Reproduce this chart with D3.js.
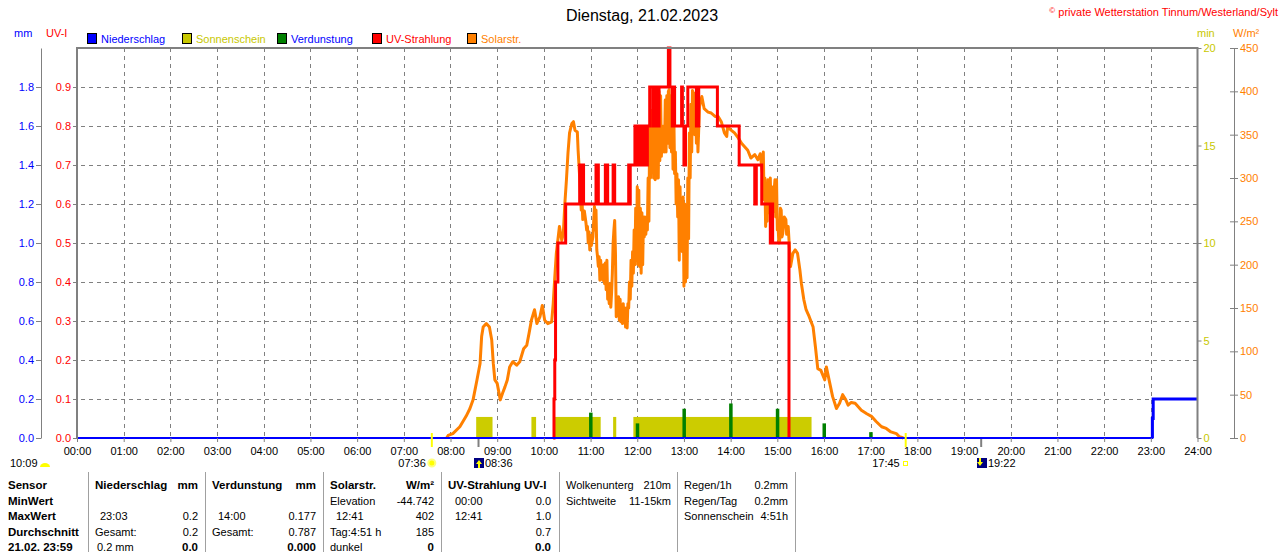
<!DOCTYPE html>
<html>
<head>
<meta charset="utf-8">
<script src="https://cdn.jsdelivr.net/npm/d3@7"></script>
<style>
  body { margin: 0; background: #fff; }
  svg { display: block; font-family: "Liberation Sans", Arial, sans-serif; }
  .axis text { font-size: 11px; }
  .tbl { font-size: 11px; fill: #000; }
  .tbl.b { font-weight: bold; font-size: 11.5px; }
</style>
</head>
<body>
<svg id="chart" width="1280" height="552"></svg>
<script>
// ---- data ----
const hourTicks = d3.range(0, 25)
const hourLabels = hourTicks.map(h => String(h).padStart(2, "0") + ":00")

const mmTicks = [0, 0.2, 0.4, 0.6, 0.8, 1.0, 1.2, 1.4, 1.6, 1.8]
const uvTicks = [0, 0.1, 0.2, 0.3, 0.4, 0.5, 0.6, 0.7, 0.8, 0.9]
const minTicks = [0, 5, 10, 15, 20]
const wTicks = [0, 50, 100, 150, 200, 250, 300, 350, 400, 450]

// Solarstrahlung W/m²
const solarTimes = ["07:55","07:57","08:03","08:12","08:20","08:25","08:29","08:34","08:38","08:40","08:42","08:46","08:50","08:53","08:55","08:57",
  "09:00","09:04","09:07","09:10","09:13","09:16","09:20","09:25","09:29","09:34","09:38","09:41","09:44","09:48","09:51","09:55","09:58",
  "10:01","10:05","10:10","10:12","10:14","10:16","10:20","10:23","10:25","10:27","10:29","10:31","10:33","10:36","10:38","10:40","10:43","10:44","10:46","10:47","10:48","10:49","10:50","10:52","10:54","10:55","10:56","10:57","10:58","10:59",
  "11:00","11:01","11:03","11:04","11:05","11:06","11:07","11:08","11:09","11:10","11:11","11:12","11:13","11:14","11:16","11:17","11:18","11:19","11:20","11:21","11:22","11:23","11:24","11:25","11:26","11:27","11:28","11:29",
  "11:30","11:31","11:32","11:33","11:34","11:35","11:36","11:37","11:38","11:39","11:40","11:41","11:42","11:43","11:44","11:45","11:46","11:47","11:48","11:49",
  "11:50","11:51","11:52","11:53","11:54","11:55","11:56","11:57","11:58","11:59",
  "12:00","12:01","12:02","12:03","12:04","12:05","12:06","12:07","12:08","12:09","12:10","12:11","12:12","12:13","12:14","12:15","12:16","12:17","12:18","12:19",
  "12:20","12:21","12:22","12:23","12:24","12:25","12:26","12:27","12:28","12:29","12:30","12:31","12:32","12:33","12:34","12:35","12:36","12:37","12:38","12:39",
  "12:40","12:41","12:42","12:43","12:44","12:45","12:46","12:47","12:48","12:49","12:50","12:51","12:52","12:53","12:54","12:55","12:56","12:57","12:58","12:59",
  "13:00","13:01","13:02","13:03","13:04","13:05","13:06","13:07","13:08","13:09","13:10","13:11","13:12","13:13","13:14","13:15","13:16","13:17","13:18",
  "13:20","13:23","13:26","13:31","13:35","13:40","13:44","13:48","13:52","13:55","13:56",
  "14:01","14:05","14:10","14:14","14:18","14:22","14:26","14:31","14:35","14:38","14:41","14:42","14:43","14:44","14:45","14:46","14:47","14:48","14:49","14:50",
  "14:51","14:52","14:53","14:54","14:55","14:57","14:58","14:59","15:00","15:01","15:02","15:03","15:04","15:05","15:06","15:07","15:09","15:11","15:12","15:14",
  "15:17","15:20","15:23","15:26","15:29","15:31","15:34","15:37","15:41","15:46","15:49","15:52","15:56",
  "16:01","16:03","16:07","16:11","16:16","16:20","16:24","16:28","16:31","16:35","16:40","16:44","16:48","16:55",
  "17:01","17:07","17:14","17:20","17:26","17:33","17:37","17:42"]
const solarValues = [0,3,5,13,25,34,44,67,86,117,128,132,128,113,86,67,
  63,44,52,59,67,82,88,84,88,103,107,121,136,148,132,140,153,
  136,132,134,155,185,213,244,228,236,271,298,329,352,363,365,355,353,332,301,282,263,275,252,262,249,240,244,225,238,217,
  234,222,232,250,267,240,263,217,209,198,209,182,205,186,182,200,178,202,171,205,160,167,155,178,151,167,190,225,
  240,251,213,140,159,150,163,136,160,134,150,132,155,135,150,128,150,127,155,150,
  180,160,205,175,215,190,240,200,265,205,
  290,200,286,198,265,190,260,200,255,232,255,235,252,240,300,250,360,300,378,320,
  378,300,360,298,385,300,390,300,400,320,395,325,350,330,360,330,390,330,395,340,
  400,402,335,395,330,380,310,375,305,330,270,305,255,298,205,290,230,260,215,278,
  175,270,180,240,185,300,230,352,300,385,330,401,360,398,350,394,340,385,330,
  382,394,380,376,375,371,371,365,352,348,359,
  355,352,346,340,336,332,323,327,321,328,305,330,275,300,244,290,250,298,260,267,
  300,255,290,260,275,298,255,298,240,244,225,228,265,263,232,236,255,252,235,244,
  198,213,217,213,194,178,160,148,140,128,105,80,78,
  67,82,65,48,34,40,50,44,38,41,40,36,32,28,
  25,19,13,11,7,5,1.5,0]

// UV-Strahlung UV-I (Stufen)
const uvTimes = ["10:12","10:13","10:14","10:15","10:18","10:28","10:46","10:47","10:49","10:51","11:07","11:10","11:19","11:22","11:29","11:31","11:49","11:50","11:51",
  "11:57","11:59","12:01","12:03","12:04","12:06","12:07","12:09","12:10","12:12","12:13","12:16","12:20","12:22","12:24","12:25","12:27","12:28",
  "12:40","12:42","12:45","12:47","12:48","12:57","12:58","13:00","13:02","13:05","13:16","13:19","13:43",
  "14:11","14:31","14:33","14:40","14:51","14:52","14:54","15:15"]
const uvValues = [0,0.1,0.2,0.4,0.5,0.6,0.7,0.6,0.7,0.6,0.7,0.6,0.7,0.6,0.7,0.6,0.7,0.6,0.7,
  0.8,0.7,0.8,0.7,0.8,0.7,0.8,0.7,0.8,0.7,0.8,0.9,0.8,0.9,0.8,0.9,0.8,0.9,
  1.0,0.9,0.8,0.9,0.8,0.9,0.8,0.7,0.8,0.9,0.8,0.9,0.8,
  0.7,0.6,0.7,0.6,0.5,0.6,0.5,0]

// Niederschlag mm
const rainTimes = ["00:00","23:02","23:03","24:00"]
const rainValues = [0, 0.1, 0.2, 0.2]

// Sonnenschein (min)
const sunStart = ["08:33","09:44","10:12","11:29","11:55"]
const sunEnd = ["08:54","09:50","11:13","11:33","15:44"]
const sunValue = 1.08

// Verdunstung mm
const evapTimes = ["11:00","12:00","13:00","14:00","15:00","16:00","17:00"]
const evapValues = [0.13, 0.075, 0.15, 0.177, 0.15, 0.075, 0.03]

// Sonne / Mond
const sunRise = "07:36", sunSet = "17:45", moonRise = "08:36", moonSet = "19:22", dayInfo = "10:09"

// ---- layout ----
const plotLeft = 77, plotRight = 1197.5, plotTop = 48, plotBottom = 438
const font = "'Liberation Sans', Arial, sans-serif"
const cBlue = "#0000ff", cYellow = "#c8c800", cGreen = "#008000", cRed = "#ff0000", cOrange = "#ff8000", cGray = "#808080"

const toMin = s => { const [h, m] = s.split(":").map(Number); return h * 60 + m }

const svg = d3.select("#chart")

const x = d3.scaleLinear().domain([0, 1440]).range([plotLeft, plotRight])
const yMM = d3.scaleLinear().domain([0, 2]).range([plotBottom, plotTop])
const yUV = d3.scaleLinear().domain([0, 1]).range([plotBottom, plotTop])
const yMin = d3.scaleLinear().domain([0, 20]).range([plotBottom, plotTop])
const yW = d3.scaleLinear().domain([0, 450]).range([plotBottom, plotTop])

// header
svg.append("text").attr("x", 642).attr("y", 21).attr("text-anchor", "middle")
    .attr("font-size", 16).text("Dienstag, 21.02.2023")
svg.append("text").attr("x", 1278).attr("y", 16).attr("text-anchor", "end")
    .attr("font-size", 11).attr("fill", cRed)
    .html('<tspan font-size="8" dy="-3">©</tspan><tspan dy="3"> private Wetterstation Tinnum/Westerland/Sylt</tspan>')

svg.append("text").attr("x", 14).attr("y", 37).attr("font-size", 11).attr("fill", cBlue).text("mm")
svg.append("text").attr("x", 46).attr("y", 37).attr("font-size", 11).attr("fill", cRed).text("UV-I")
svg.append("text").attr("x", 1197).attr("y", 37).attr("font-size", 11).attr("fill", cYellow).text("min")
svg.append("text").attr("x", 1233).attr("y", 37).attr("font-size", 11).attr("fill", cOrange).text("W/m²")

//legend
const legendNames = ["Niederschlag", "Sonnenschein", "Verdunstung", "UV-Strahlung", "Solarstr."]
const legendColours = [cBlue, cYellow, cGreen, cRed, cOrange]
const legendText = [cBlue, cYellow, cBlue, cRed, cOrange]
const legend = svg.append("g").selectAll("g")
    .data(legendNames).enter().append("g")
    .attr("transform", (d, i) => `translate(${87 + i * 95}, 33)`)
legend.append("rect").attr("x", 0.5).attr("y", 0.5).attr("width", 9).attr("height", 10)
    .attr("fill", (d, i) => legendColours[i]).attr("stroke", "#000")
legend.append("text").attr("x", 14).attr("y", 9.5).attr("font-size", 11)
    .attr("fill", (d, i) => legendText[i]).text(d => d)

// grid
const grid = svg.append("g").attr("stroke", cGray).attr("stroke-dasharray", "4,4").attr("stroke-width", 1)
grid.selectAll("line.h").data(uvTicks.slice(1)).enter().append("line")
    .attr("x1", plotLeft - 4).attr("x2", plotRight).attr("y1", d => Math.round(yUV(d)) + 0.5).attr("y2", d => Math.round(yUV(d)) + 0.5)
grid.selectAll("line.v").data(hourTicks.slice(1, 24)).enter().append("line")
    .attr("y1", plotTop).attr("y2", plotBottom).attr("x1", d => Math.round(x(d * 60)) + 0.5).attr("x2", d => Math.round(x(d * 60)) + 0.5)

// sunshine bars
svg.append("g").selectAll("rect").data(sunStart).enter().append("rect")
    .attr("x", d => x(toMin(d)))
    .attr("width", (d, i) => x(toMin(sunEnd[i])) - x(toMin(d)))
    .attr("y", yMin(sunValue)).attr("height", plotBottom - yMin(sunValue))
    .attr("fill", "#cccc00")

// evaporation bars
svg.append("g").selectAll("rect").data(evapTimes).enter().append("rect")
    .attr("x", d => x(toMin(d)) - 1.5).attr("width", 3.5)
    .attr("y", (d, i) => yMM(evapValues[i])).attr("height", (d, i) => plotBottom - yMM(evapValues[i]))
    .attr("fill", cGreen)

// solar radiation
const solarData = solarTimes.map((t, i) => ({ t: toMin(t), v: solarValues[i] }))
svg.append("path").datum(solarData)
    .attr("fill", "none").attr("stroke", cOrange).attr("stroke-width", 3).attr("stroke-linejoin", "round")
    .attr("d", d3.line().x(d => x(d.t)).y(d => yW(d.v)))

// UV
const uvData = uvTimes.map((t, i) => ({ t: toMin(t), v: uvValues[i] }))
svg.append("path").datum(uvData)
    .attr("fill", "none").attr("stroke", cRed).attr("stroke-width", 3)
    .attr("d", d3.line().curve(d3.curveStepAfter).x(d => x(d.t)).y(d => yUV(d.v)))

// rain
const rainData = rainTimes.map((t, i) => ({ t: toMin(t), v: rainValues[i] }))
const rainLine = d3.line().curve(d3.curveStepAfter).x(d => x(d.t)).y(d => yMM(d.v))
svg.append("path").datum(rainData).attr("fill", "none").attr("stroke", cBlue).attr("stroke-width", 2).attr("d", rainLine)
const rainUp = [{ t: rainData[1].t, v: 0 }].concat(rainData.slice(1))
svg.append("path").datum(rainUp).attr("fill", "none").attr("stroke", cBlue).attr("stroke-width", 3).attr("d", rainLine)

// frame
svg.append("path").attr("fill", "none").attr("stroke", cGray).attr("stroke-width", 2)
    .attr("d", `M${plotLeft},${plotBottom}V${plotTop}H${plotRight}V${plotBottom}`)

// axes
function styleAxis(g, colour) {
    g.attr("class", "axis").attr("font-family", font)
    g.selectAll(".tick line").attr("stroke", cGray)
    g.selectAll(".domain").attr("stroke", cGray)
    g.selectAll(".tick text").attr("fill", colour).attr("font-size", 11)
}
svg.append("g").attr("transform", "translate(41,0)")
    .call(d3.axisLeft(yMM).tickValues(mmTicks).tickFormat(d3.format(".1f")).tickSize(5).tickSizeOuter(0).tickPadding(2))
    .call(g => styleAxis(g, cBlue))
svg.append("g").attr("transform", `translate(${plotLeft},0)`)
    .call(d3.axisLeft(yUV).tickValues(uvTicks).tickFormat(d3.format(".1f")).tickSize(4).tickSizeOuter(0).tickPadding(2))
    .call(g => { styleAxis(g, cRed); g.select(".domain").remove() })
svg.append("g").attr("transform", `translate(${plotRight},0)`)
    .call(d3.axisRight(yMin).tickValues(minTicks).tickSize(4).tickSizeOuter(0).tickPadding(2))
    .call(g => { styleAxis(g, cYellow); g.select(".domain").remove() })
svg.append("g").attr("transform", "translate(1234,0)")
    .call(d3.axisRight(yW).tickValues(wTicks).tickSize(4).tickSizeOuter(0).tickPadding(2))
    .call(g => { styleAxis(g, cOrange); g.selectAll(".tick line").attr("x1", -4) })
svg.append("g").attr("transform", `translate(0,${plotBottom})`)
    .call(d3.axisBottom(x).tickValues(hourTicks.map(h => h * 60)).tickFormat((d, i) => hourLabels[i]).tickSize(4).tickSizeOuter(0).tickPadding(5))
    .call(g => { styleAxis(g, "#000"); g.select(".domain").remove() })

// sun and moon markers
const marks = svg.append("g")
marks.append("line").attr("x1", x(toMin(sunRise))).attr("x2", x(toMin(sunRise))).attr("y1", 433).attr("y2", 447).attr("stroke", "#ffff00").attr("stroke-width", 2)
marks.append("line").attr("x1", x(toMin(sunSet))).attr("x2", x(toMin(sunSet))).attr("y1", 433).attr("y2", 447).attr("stroke", "#ffff00").attr("stroke-width", 2)
marks.append("line").attr("x1", x(toMin(moonRise))).attr("x2", x(toMin(moonRise))).attr("y1", 439).attr("y2", 447).attr("stroke", cGray).attr("stroke-width", 2)
marks.append("line").attr("x1", x(toMin(moonSet))).attr("x2", x(toMin(moonSet))).attr("y1", 439).attr("y2", 447).attr("stroke", cGray).attr("stroke-width", 2)

const labY = 467
marks.append("text").attr("x", 10).attr("y", labY).attr("font-size", 11).text(dayInfo)
marks.append("path").attr("d", "M40,467 A5,4 0 0 1 50,467 Z").attr("fill", "#ffff00")

marks.append("text").attr("x", x(toMin(sunRise)) - 6).attr("y", labY).attr("text-anchor", "end").attr("font-size", 11).text(sunRise)
marks.append("circle").attr("cx", x(toMin(sunRise))).attr("cy", 463).attr("r", 3.5).attr("fill", "#ffff00").attr("stroke", "#ffff80").attr("stroke-width", 2)

marks.append("rect").attr("x", 474).attr("y", 458).attr("width", 10).attr("height", 10).attr("fill", "#000080")
marks.append("path").attr("d", "M479,460 L476,464 H478 V468 H480 V464 H482 Z").attr("fill", "#ffff00")
marks.append("text").attr("x", 485).attr("y", labY).attr("font-size", 11).text(moonRise)

marks.append("text").attr("x", x(toMin(sunSet)) - 6).attr("y", labY).attr("text-anchor", "end").attr("font-size", 11).text(sunSet)
marks.append("rect").attr("x", 903.5).attr("y", 461.5).attr("width", 4).attr("height", 4).attr("fill", "none").attr("stroke", "#ffff00")

marks.append("rect").attr("x", 977).attr("y", 458).attr("width", 10).attr("height", 10).attr("fill", "#000080")
marks.append("path").attr("d", "M980,466 L977,462 H979 V458 H981 V462 H983 Z").attr("fill", "#ffff00")
marks.append("text").attr("x", 988).attr("y", labY).attr("font-size", 11).text(moonSet)

// table
const sepX = [88.5, 205.5, 323.5, 441.5, 559.5, 677.5, 795.5]
svg.append("g").selectAll("line").data(sepX).enter().append("line")
    .attr("x1", d => d).attr("x2", d => d).attr("y1", 472).attr("y2", 552)
    .attr("stroke", "#a0a0a0")

const rowY = [489, 504.5, 520, 535.5, 550.5]
// [text, x, row, anchor, bold]
const cells = [
  ["Sensor", 8, 0, "start", 1], ["MinWert", 8, 1, "start", 1], ["MaxWert", 8, 2, "start", 1], ["Durchschnitt", 8, 3, "start", 1], ["21.02. 23:59", 8, 4, "start", 1],
  ["Niederschlag", 95, 0, "start", 1], ["mm", 198, 0, "end", 1],
  ["23:03", 100, 2, "start", 0], ["0.2", 198, 2, "end", 0],
  ["Gesamt:", 95, 3, "start", 0], ["0.2", 198, 3, "end", 0],
  ["0.2 mm", 97, 4, "start", 0], ["0.0", 198, 4, "end", 1],
  ["Verdunstung", 212, 0, "start", 1], ["mm", 316, 0, "end", 1],
  ["14:00", 218, 2, "start", 0], ["0.177", 316, 2, "end", 0],
  ["Gesamt:", 212, 3, "start", 0], ["0.787", 316, 3, "end", 0],
  ["0.000", 316, 4, "end", 1],
  ["Solarstr.", 330, 0, "start", 1], ["W/m²", 434, 0, "end", 1],
  ["Elevation", 330, 1, "start", 0], ["-44.742", 434, 1, "end", 0],
  ["12:41", 336, 2, "start", 0], ["402", 434, 2, "end", 0],
  ["Tag:4:51 h", 330, 3, "start", 0], ["185", 434, 3, "end", 0],
  ["dunkel", 330, 4, "start", 0], ["0", 434, 4, "end", 1],
  ["UV-Strahlung UV-I", 448, 0, "start", 1],
  ["00:00", 455, 1, "start", 0], ["0.0", 551, 1, "end", 0],
  ["12:41", 455, 2, "start", 0], ["1.0", 551, 2, "end", 0],
  ["0.7", 551, 3, "end", 0], ["0.0", 551, 4, "end", 1],
  ["Wolkenunterg", 566, 0, "start", 0], ["210m", 671, 0, "end", 0],
  ["Sichtweite", 566, 1, "start", 0], ["11-15km", 671, 1, "end", 0],
  ["Regen/1h", 684, 0, "start", 0], ["0.2mm", 788, 0, "end", 0],
  ["Regen/Tag", 684, 1, "start", 0], ["0.2mm", 788, 1, "end", 0],
  ["Sonnenschein", 684, 2, "start", 0], ["4:51h", 788, 2, "end", 0]
]
svg.append("g").selectAll("text").data(cells).enter().append("text")
    .attr("class", d => d[4] ? "tbl b" : "tbl")
    .attr("x", d => d[1]).attr("y", d => rowY[d[2]])
    .attr("text-anchor", d => d[3])
    .text(d => d[0])
</script>
</body>
</html>
